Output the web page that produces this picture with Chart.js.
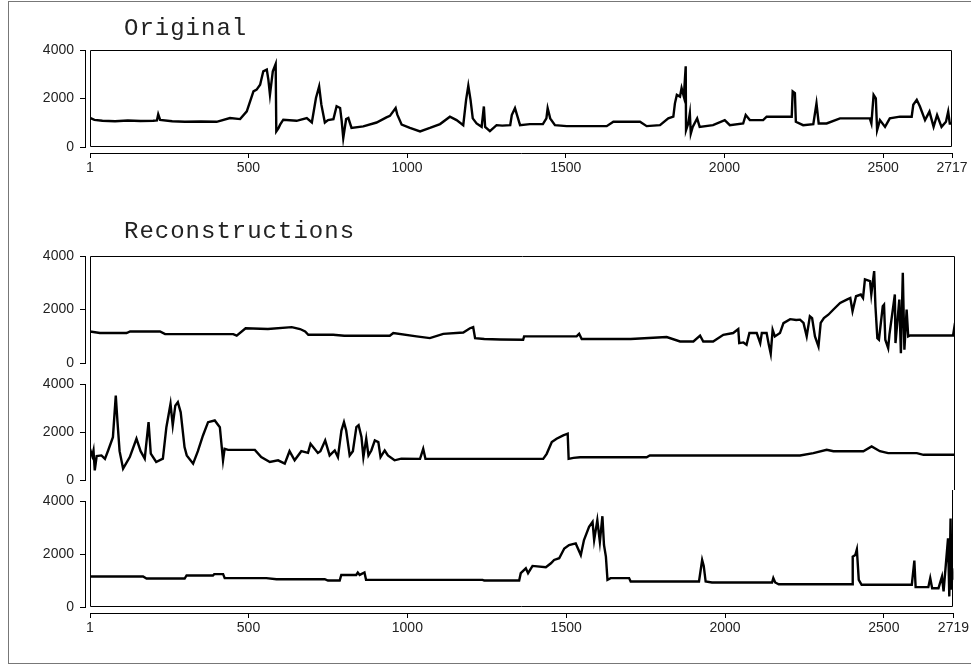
<!DOCTYPE html>
<html>
<head>
<meta charset="utf-8">
<script src="https://cdn.jsdelivr.net/npm/chart.js@4.4.0/dist/chart.umd.min.js"></script>
<style>
  body { margin: 0; background: #fff; width: 971px; height: 665px; overflow: hidden; position: relative; }
  #frame { position: absolute; left: 8px; top: 1px; width: 1000px; height: 663px; border: 1px solid #777; box-sizing: border-box; }
  canvas { position: absolute; left: 0; display: block; }
</style>
</head>
<body>
<div id="frame"></div>
<canvas id="cOrig" width="971" height="185" style="top:0"></canvas>
<canvas id="cRec1" width="971" height="188" style="top:185px"></canvas>
<canvas id="cRec2" width="971" height="117" style="top:373px"></canvas>
<canvas id="cRec3" width="971" height="175" style="top:490px"></canvas>
<script>
// tick labels
const origTicks = [1, 500, 1000, 1500, 2000, 2500, 2717];
const recTicks = [1, 500, 1000, 1500, 2000, 2500, 2719];
const yTicks = [0, 2000, 4000];

// original series (index, value)
const origIdx = [1, 15, 40, 80, 120, 160, 200, 212, 216, 222, 260, 300, 350, 400, 442, 474, 495, 516, 526, 537,
  547, 558, 563, 568, 577, 586, 588, 595, 600, 610, 652, 684, 700, 713, 723, 730, 741, 751, 768, 778,
  789, 794, 799, 808, 815, 825, 862, 904, 935, 946, 964, 969, 983, 1009, 1041, 1072, 1104, 1135, 1156, 1177,
  1186, 1193, 1200, 1207, 1219, 1235, 1242, 1246, 1261, 1282, 1300, 1325, 1330, 1340, 1348, 1356, 1387, 1428, 1439, 1443,
  1451, 1466, 1503, 1560, 1629, 1650, 1700, 1734, 1755, 1797, 1823, 1839, 1844, 1850, 1860, 1865, 1872, 1878, 1879, 1886,
  1891, 1894, 1900, 1914, 1922, 1964, 2001, 2017, 2059, 2067, 2080, 2122, 2133, 2175, 2212, 2215, 2222, 2225, 2248, 2280,
  2290, 2297, 2322, 2364, 2458, 2463, 2470, 2477, 2481, 2490, 2506, 2521, 2553, 2590, 2595, 2606, 2616, 2632, 2646, 2659,
  2670, 2684, 2698, 2705, 2710, 2717];
const origVal = [1200, 1120, 1080, 1060, 1090, 1070, 1080, 1100, 1350, 1120, 1060, 1040, 1050, 1040, 1195, 1150, 1470, 2295, 2365, 2570,
  3120, 3190, 2780, 2160, 3120, 3420, 645, 780, 920, 1125, 1080, 1195, 1010, 2020, 2500, 1745, 1010, 1110, 1150, 1680,
  1610, 1080, 370, 1150, 1195, 785, 850, 1010, 1220, 1285, 1610, 1345, 920, 785, 645, 785, 945, 1250, 1110, 900,
  1945, 2530, 1945, 1180, 970, 830, 1670, 830, 650, 900, 880, 900, 1320, 1600, 1250, 900, 945, 945, 1180, 1600,
  1180, 900, 860, 860, 860, 1040, 1040, 1040, 860, 900, 1180, 1250, 1800, 2150, 2080, 2430, 2080, 3330, 695, 970,
  1390, 555, 830, 1180, 830, 900, 1110, 900, 970, 1320, 1110, 1110, 1250, 1250, 1250, 2290, 2220, 1040, 900, 945,
  1800, 970, 970, 1180, 1180, 970, 2150, 2010, 695, 1110, 830, 1180, 1250, 1250, 1740, 1945, 1670, 1110, 1460, 830,
  1320, 830, 1040, 1460, 970, 970];

// reconstruction 1
const rec1Idx = [1, 32, 116, 127, 221, 237, 451, 462, 490, 560, 635, 661, 677, 687, 765, 800, 943, 954, 1027, 1069,
  1111, 1174, 1195, 1205, 1211, 1240, 1290, 1362, 1365, 1530, 1538, 1546, 1700, 1813, 1855, 1897, 1918, 1928, 1959, 1991,
  2022, 2038, 2041, 2054, 2064, 2073, 2096, 2107, 2112, 2127, 2134, 2140, 2146, 2153, 2169, 2180, 2201, 2220, 2232, 2243,
  2253, 2263, 2270, 2279, 2290, 2297, 2307, 2321, 2337, 2358, 2379, 2390, 2397, 2408, 2423, 2430, 2436, 2452, 2456, 2465,
  2469, 2475, 2480, 2492, 2496, 2500, 2509, 2513, 2530, 2532, 2544, 2549, 2555, 2560, 2567, 2572, 2578, 2713, 2719];
const rec1Val = [1180, 1120, 1120, 1180, 1180, 1080, 1080, 1020, 1300, 1270, 1340, 1270, 1180, 1055, 1055, 1020, 1020, 1120, 995, 930,
  1090, 1140, 1300, 1340, 930, 895, 880, 870, 995, 995, 1090, 895, 895, 970, 805, 805, 1020, 805, 805, 1055,
  1120, 1270, 745, 770, 685, 1120, 1120, 745, 1120, 1120, 685, 350, 1240, 995, 1120, 1490, 1640, 1610, 1620, 1500,
  995, 1745, 1680, 995, 620, 1500, 1680, 1805, 2000, 2245, 2370, 2430, 1935, 2495, 2560, 2430, 3125, 3060, 2560, 3435,
  2120, 930, 870, 2120, 2180, 870, 560, 1060, 2560, 745, 2370, 370, 3375, 495, 2000, 995, 1030, 1030, 1500];

// reconstruction 2
const rec2Idx = [1, 8, 12, 16, 22, 37, 48, 58, 73, 82, 87, 94, 105, 126, 147, 160, 173, 185, 192, 209,
  230, 241, 254, 261, 269, 277, 286, 298, 305, 325, 340, 356, 372, 393, 409, 419, 424, 435, 519, 539,
  566, 592, 613, 628, 644, 665, 686, 694, 717, 725, 740, 754, 770, 780, 791, 799, 806, 817, 827, 838,
  845, 854, 860, 869, 876, 885, 896, 907, 914, 927, 937, 958, 979, 1038, 1048, 1055, 1289, 1425, 1436, 1452,
  1467, 1488, 1502, 1505, 1520, 1541, 1750, 1760, 2232, 2274, 2316, 2337, 2431, 2457, 2483, 2509, 2599, 2620, 2719];
const rec2Val = [1300, 1000, 1230, 400, 1000, 1025, 880, 1230, 1785, 3515, 2490, 1200, 470, 955, 1720, 1200, 890, 2410, 1095, 750,
  890, 2200, 3170, 2280, 3100, 3240, 2820, 1370, 1025, 680, 1200, 1855, 2410, 2480, 2200, 820, 1300, 1255, 1255, 955,
  750, 820, 680, 1200, 820, 1200, 1130, 1510, 1130, 1200, 1650, 1025, 1230, 955, 2060, 2410, 2060, 1025, 1200, 2200,
  2280, 1790, 955, 1720, 1025, 1230, 1650, 1580, 955, 1230, 1025, 820, 890, 880, 1300, 880, 880, 880, 1090, 1580,
  1720, 1860, 1930, 880, 920, 950, 950, 1020, 1020, 1120, 1260, 1200, 1200, 1400, 1200, 1120, 1120, 1050, 1050];

// reconstruction 3
const rec3Idx = [1, 168, 179, 299, 305, 388, 392, 420, 425, 556, 588, 740, 750, 787, 792, 839, 844, 850, 865, 870,
  1237, 1242, 1352, 1357, 1373, 1380, 1394, 1436, 1452, 1462, 1478, 1494, 1509, 1530, 1546, 1556, 1572, 1583, 1588, 1598,
  1606, 1614, 1619, 1625, 1630, 1640, 1698, 1703, 1918, 1928, 1933, 1939, 1959, 2148, 2152, 2158, 2169, 2400, 2402, 2410,
  2415, 2421, 2430, 2588, 2596, 2600, 2640, 2646, 2652, 2672, 2683, 2688, 2695, 2702, 2706, 2710, 2713, 2716, 2719];
const rec3Val = [1150, 1150, 1075, 1075, 1190, 1190, 1240, 1240, 1090, 1090, 1050, 1050, 1000, 1000, 1210, 1210, 1300, 1210, 1300, 1025,
  1025, 1000, 1000, 1275, 1460, 1275, 1550, 1500, 1650, 1775, 1840, 2210, 2340, 2400, 1960, 2525, 3025, 3210, 2525, 3275,
  2460, 3425, 2340, 1900, 1025, 1090, 1090, 960, 960, 1775, 1550, 960, 925, 925, 1090, 925, 860, 860, 1900, 1960,
  2175, 1025, 840, 840, 1750, 750, 750, 1090, 710, 710, 1150, 590, 1590, 2590, 400, 3340, 650, 1460, 1025];

const FONT = 'Liberation Sans';

function pts(xs, ys) {
  return xs.map(function (x, i) { return { x: x, y: ys[i] }; });
}

// panel titles
const panelTitle = {
  id: 'panelTitle',
  afterDraw(chart, args, opts) {
    if (!opts.text) return;
    const ctx = chart.ctx;
    ctx.save();
    ctx.font = '24px "Liberation Mono"';
    ctx.letterSpacing = '1px';
    ctx.fillStyle = '#222';
    ctx.textBaseline = 'alphabetic';
    ctx.fillText(opts.text, opts.x, opts.y);
    ctx.restore();
  }
};

// plot box, open on the sides that continue into the next panel
const panelBox = {
  id: 'panelBox',
  afterDatasetsDraw(chart, args, opts) {
    const a = chart.chartArea;
    const ctx = chart.ctx;
    const l = Math.round(a.left) + 0.5, r = Math.round(a.right) - 0.5;
    const t = opts.top ? Math.round(a.top) + 0.5 : 0;
    const b = opts.bottom ? Math.round(a.bottom) - 0.5 : chart.height;
    ctx.save();
    ctx.strokeStyle = '#000';
    ctx.lineWidth = 1;
    ctx.beginPath();
    ctx.moveTo(l, t); ctx.lineTo(l, b);
    ctx.moveTo(r, t); ctx.lineTo(r, b);
    if (opts.top) { ctx.moveTo(l, t); ctx.lineTo(r, t); }
    if (opts.bottom) { ctx.moveTo(l, b); ctx.lineTo(r, b); }
    ctx.stroke();
    ctx.restore();
  }
};

function makeChart(id, data, cfg) {
  return new Chart(document.getElementById(id), {
    type: 'line',
    data: {
      datasets: [{
        data: data,
        borderColor: '#000',
        borderWidth: 2.4,
        pointRadius: 0,
        tension: 0,
        fill: false,
        xAxisID: 'x',
        yAxisID: 'y'
      }]
    },
    options: {
      responsive: false,
      animation: false,
      events: [],
      layout: { padding: cfg.padding },
      plugins: {
        legend: { display: false },
        tooltip: { enabled: false },
        panelTitle: cfg.title || {},
        panelBox: cfg.box
      },
      scales: {
        x: {
          type: 'linear',
          position: 'bottom',
          weight: 1,
          display: cfg.showX,
          min: 1,
          max: cfg.xMax,
          afterBuildTicks: function (s) { s.ticks = cfg.xTicks.map(function (v) { return { value: v }; }); },
          grid: { drawOnChartArea: false, tickLength: 5, color: '#000' },
          border: { color: '#000' },
          ticks: { autoSkip: false, maxRotation: 0, padding: 2, color: '#222',
            font: { family: FONT, size: 14 }, callback: function (v) { return String(v); } },
          afterFit: function (s) { s.height = cfg.showX ? 28 : 0; }
        },
        xGap: {
          type: 'linear',
          position: 'bottom',
          weight: 0,
          display: cfg.showX,
          grid: { display: false },
          border: { display: false },
          ticks: { display: false },
          afterFit: function (s) { s.height = cfg.showX ? 6 : 0; }
        },
        y: {
          type: 'linear',
          position: 'left',
          weight: 1,
          min: 0,
          max: 4000,
          afterBuildTicks: function (s) { s.ticks = yTicks.map(function (v) { return { value: v }; }); },
          grid: { drawOnChartArea: false, tickLength: 5, color: '#000' },
          border: { color: '#000' },
          ticks: { padding: 6, color: '#222', font: { family: FONT, size: 14 },
            callback: function (v) { return String(v); } },
          afterFit: function (s) { s.width = 85; s.paddingTop = 0; s.paddingBottom = 0; }
        },
        yGap: {
          type: 'linear',
          position: 'left',
          weight: 0,
          grid: { display: false },
          border: { display: false },
          ticks: { display: false },
          afterFit: function (s) { s.width = 5; s.paddingTop = 0; s.paddingBottom = 0; }
        }
      }
    },
    plugins: [panelTitle, panelBox]
  });
}

makeChart('cOrig', pts(origIdx, origVal), {
  xMax: 2717, xTicks: origTicks, showX: true,
  padding: { left: 0, top: 50, right: 19, bottom: 4 },
  title: { text: 'Original', x: 124, y: 35 },
  box: { top: true, bottom: true }
});
makeChart('cRec1', pts(rec1Idx, rec1Val), {
  xMax: 2719, xTicks: recTicks, showX: false,
  padding: { left: 0, top: 71, right: 16, bottom: 10 },
  title: { text: 'Reconstructions', x: 124, y: 53 },
  box: { top: true, bottom: false }
});
makeChart('cRec2', pts(rec2Idx, rec2Val), {
  xMax: 2719, xTicks: recTicks, showX: false,
  padding: { left: 0, top: 11, right: 16, bottom: 10 },
  box: { top: false, bottom: false }
});
makeChart('cRec3', pts(rec3Idx, rec3Val), {
  xMax: 2719, xTicks: recTicks, showX: true,
  padding: { left: 0, top: 11, right: 16, bottom: 24 },
  box: { top: false, bottom: true }
});
</script>
</body>
</html>
